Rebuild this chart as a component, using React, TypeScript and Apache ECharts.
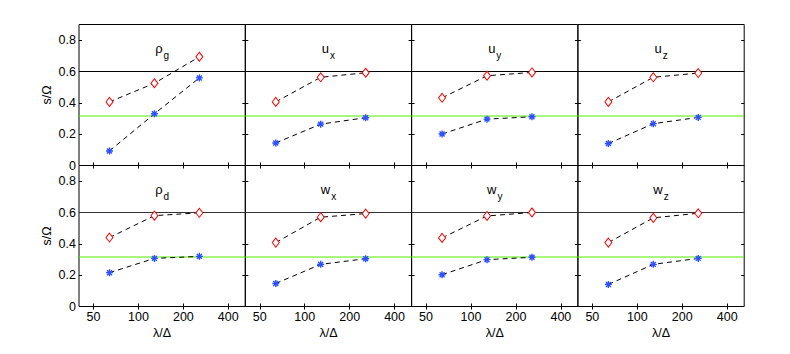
import React, { useEffect, useRef } from 'react';
import * as echarts from 'echarts';

// ---- data ----
const lambdaValues = [64, 128, 256];
const xTickValues = [50, 100, 200, 400];
const yTickValues = [0, 0.2, 0.4, 0.6, 0.8];
const refUpper = 0.6;
const refLower = 0.316;

const rhoGUpper = [0.406, 0.525, 0.694];
const rhoGLower = [0.093, 0.33, 0.559];
const uxUpper = [0.406, 0.563, 0.592];
const uxLower = [0.144, 0.264, 0.305];
const uyUpper = [0.432, 0.573, 0.594];
const uyLower = [0.201, 0.296, 0.311];
const uzUpper = [0.406, 0.563, 0.59];
const uzLower = [0.14, 0.267, 0.307];
const rhoDUpper = [0.44, 0.58, 0.598];
const rhoDLower = [0.216, 0.307, 0.32];
const wxUpper = [0.408, 0.57, 0.593];
const wxLower = [0.147, 0.269, 0.305];
const wyUpper = [0.438, 0.578, 0.6];
const wyLower = [0.203, 0.299, 0.314];
const wzUpper = [0.408, 0.566, 0.595];
const wzLower = [0.141, 0.269, 0.307];

const panelLabels = [
  ['ρ', 'g'], ['u', 'x'], ['u', 'y'], ['u', 'z'],
  ['ρ', 'd'], ['w', 'x'], ['w', 'y'], ['w', 'z'],
];
const panelUpper = [rhoGUpper, uxUpper, uyUpper, uzUpper, rhoDUpper, wxUpper, wyUpper, wzUpper];
const panelLower = [rhoGLower, uxLower, uyLower, uzLower, rhoDLower, wxLower, wyLower, wzLower];

// ---- styling / layout ----
const X_MIN = 40;
const X_MAX = 520;
const Y_MIN = 0;
const Y_MAX = 0.9;
const GRID_LEFT = 79;
const GRID_TOP = 24.5;
const GRID_W = 166.3;
const GRID_H = 141;
const FONT = 'Liberation Sans, Arial, Helvetica, sans-serif';
const RED = '#ff0000';
const BLUE = '#2f50ff';
const GREEN = '#55ee00';

function asteriskPath(): string {
  const L = 1;
  const h = 0.2;
  let d = '';
  for (const deg of [0, 45, 90, 135]) {
    const a = (deg * Math.PI) / 180;
    const c = Math.cos(a);
    const s = Math.sin(a);
    const pts = [[-L, -h], [L, -h], [L, h], [-L, h]].map(([x, y]) => [x * c - y * s, x * s + y * c]);
    d += 'M' + pts.map((p) => p[0].toFixed(3) + ' ' + p[1].toFixed(3)).join(' L') + ' Z ';
  }
  return 'path://' + d;
}

const lx = (v: number) => Math.log10(v);

export default function App() {
  const ref = useRef<HTMLDivElement>(null);
  useEffect(() => {
    if (!ref.current) return;
    const chart = echarts.init(ref.current, undefined, { renderer: 'svg' });
    const grids: any[] = [];
    const xAxes: any[] = [];
    const yAxes: any[] = [];
    const series: any[] = [];
    const graphics: any[] = [];
    const xTicksLog = xTickValues.map(lx);
    const star = asteriskPath();

    for (let i = 0; i < 8; i++) {
      const row = Math.floor(i / 4);
      const col = i % 4;
      const left = GRID_LEFT + col * GRID_W;
      const top = GRID_TOP + row * GRID_H;
      grids.push({
        left, top, width: GRID_W, height: GRID_H,
        show: true, borderColor: '#000', borderWidth: 1, backgroundColor: 'transparent',
      });
      const baseX = {
        type: 'value', gridIndex: i, min: lx(X_MIN), max: lx(X_MAX),
        axisLine: { show: false },
        splitLine: { show: false },
        axisTick: { show: true, inside: true, length: 3, customValues: xTicksLog, lineStyle: { color: '#000' } },
      };
      xAxes.push({
        ...baseX,
        position: 'bottom',
        axisLabel: {
          show: row === 1, customValues: xTicksLog, margin: 4,
          fontSize: 12.5, color: '#000', fontFamily: FONT,
          formatter: (v: number) => String(Math.round(Math.pow(10, v))),
        },
        name: row === 1 ? 'λ/Δ' : '',
        nameLocation: 'middle', nameGap: 20,
        nameTextStyle: { fontSize: 12.5, color: '#000', fontFamily: FONT },
      });
      xAxes.push({ ...baseX, position: 'top', axisLabel: { show: false } });
      const baseY = {
        type: 'value', gridIndex: i, min: Y_MIN, max: Y_MAX,
        axisLine: { show: false },
        splitLine: { show: false },
        axisTick: { show: true, inside: true, length: 3, customValues: yTickValues, lineStyle: { color: '#000' } },
      };
      yAxes.push({
        ...baseY,
        position: 'left',
        axisLabel: {
          show: col === 0, customValues: yTickValues, margin: 3,
          fontSize: 12.5, color: '#000', fontFamily: FONT,
          formatter: (v: number) => (v === 0 ? '0' : v.toFixed(1)),
        },
        name: col === 0 ? 's/Ω' : '',
        nameLocation: 'middle', nameGap: 26, nameRotate: 90,
        nameTextStyle: { fontSize: 12.5, color: '#000', fontFamily: FONT },
      });
      yAxes.push({ ...baseY, position: 'right', axisLabel: { show: false } });

      const xi = 2 * i;
      const yi = 2 * i;
      // reference lines
      series.push({
        type: 'line', xAxisIndex: xi, yAxisIndex: yi, z: 1, silent: true,
        showSymbol: false, symbol: 'none',
        lineStyle: { color: row === 0 ? '#000' : '#333', width: 1, type: 'solid' },
        data: [[lx(X_MIN), refUpper], [lx(X_MAX), refUpper]],
      });
      series.push({
        type: 'line', xAxisIndex: xi, yAxisIndex: yi, z: 1, silent: true,
        showSymbol: false, symbol: 'none',
        lineStyle: { color: GREEN, width: 1.2, type: 'solid', opacity: 1 },
        data: [[lx(X_MIN), refLower], [lx(X_MAX), refLower]],
      });
      series.push({
        type: 'line', xAxisIndex: xi, yAxisIndex: yi, z: 3,
        symbol: 'diamond', symbolSize: [7, 9],
        itemStyle: { color: '#fff', borderColor: RED, borderWidth: 1 },
        lineStyle: { color: '#000', width: 1, type: [5, 4] },
        data: lambdaValues.map((x, k) => [lx(x), panelUpper[i][k]]),
      });
      series.push({
        type: 'line', xAxisIndex: xi, yAxisIndex: yi, z: 3,
        symbol: star, symbolSize: 7,
        itemStyle: { color: BLUE },
        lineStyle: { color: '#000', width: 1, type: [5, 4] },
        data: lambdaValues.map((x, k) => [lx(x), panelLower[i][k]]),
      });

      const [base, sub] = panelLabels[i];
      graphics.push({
        type: 'text',
        x: left + GRID_W / 2,
        y: top + 24,
        z: 10,
        style: {
          text: `{a|${base}}{b|${sub}}`,
          textAlign: 'center',
          textVerticalAlign: 'middle',
          rich: {
            a: { fontSize: 13, fill: '#000', fontFamily: FONT },
            b: { fontSize: 10, fill: '#000', fontFamily: FONT, padding: [13, 0, 0, 1] },
          },
        },
      });
    }

    chart.setOption({
      animation: false,
      backgroundColor: '#fff',
      grid: grids,
      xAxis: xAxes,
      yAxis: yAxes,
      series,
      graphic: graphics,
    });
    return () => chart.dispose();
  }, []);
  return (
    <div
      ref={ref}
      style={{ position: 'fixed', left: 0, top: 0, width: 790, height: 354, background: '#fff' }}
    />
  );
}
